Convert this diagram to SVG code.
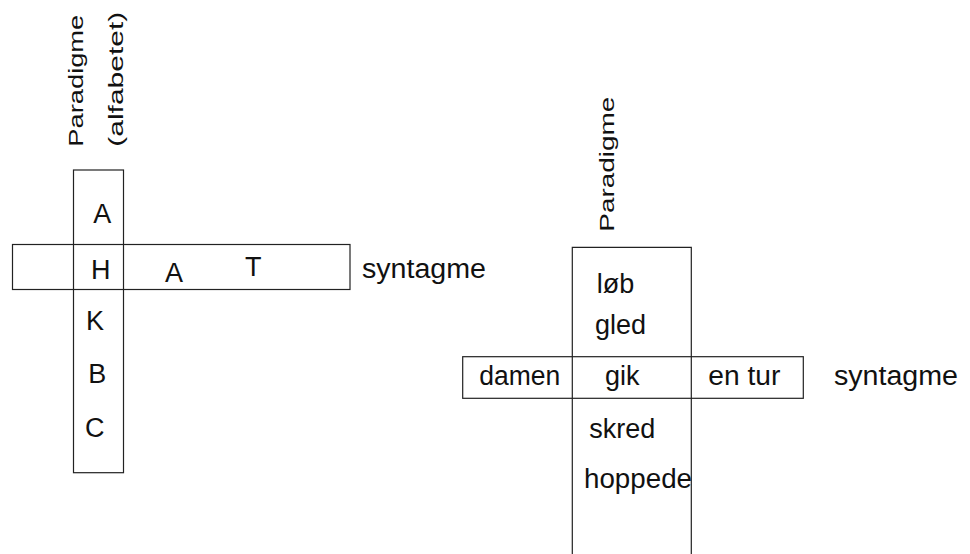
<svg xmlns="http://www.w3.org/2000/svg" width="970" height="554" viewBox="0 0 970 554">
  <style>
    .box { fill: none; stroke: #222; stroke-width: 1.2; }
    .t { font-family: "Liberation Sans", Arial, sans-serif; font-size: 27px; fill: #111; }
    .v { font-family: "Liberation Sans", Arial, sans-serif; font-size: 21px; fill: #111; }
  </style>
  <rect width="970" height="554" fill="#fff"/>

  <!-- Left cross: the alphabet as paradigm, H-A-T as syntagm -->
  <g id="left-paradigm">
    <rect class="box" x="73.5" y="170" width="50" height="302.7"/>
    <text class="v" transform="translate(83,146.7) rotate(-90)" textLength="132" lengthAdjust="spacingAndGlyphs">Paradigme</text>
    <text class="v" transform="translate(123,146.7) rotate(-90)" textLength="135" lengthAdjust="spacingAndGlyphs">(alfabetet)</text>
    <text class="t" x="93.3" y="223.3">A</text>
    <text class="t" x="86" y="330">K</text>
    <text class="t" x="88.3" y="383.3">B</text>
    <text class="t" x="85" y="436.7">C</text>
  </g>
  <g id="left-syntagm">
    <rect class="box" x="12.5" y="244.5" width="337.5" height="45"/>
    <text class="t" x="91" y="279.3">H</text>
    <text class="t" x="165" y="282.3">A</text>
    <text class="t" x="245" y="276">T</text>
    <text class="t" x="362" y="277.5" textLength="124" lengthAdjust="spacingAndGlyphs">syntagme</text>
  </g>

  <!-- Right cross: verbs as paradigm, "damen gik en tur" as syntagm -->
  <g id="right-paradigm">
    <path class="box" d="M572.3,554 V247.3 H691.3 V554"/>
    <text class="v" transform="translate(614,231.7) rotate(-90)" textLength="135" lengthAdjust="spacingAndGlyphs">Paradigme</text>
    <text class="t" x="596.7" y="293.3">løb</text>
    <text class="t" x="595" y="334">gled</text>
    <text class="t" x="589.3" y="438.3">skred</text>
    <text class="t" x="584" y="488.3" textLength="108" lengthAdjust="spacingAndGlyphs">hoppede</text>
  </g>
  <g id="right-syntagm">
    <rect class="box" x="462.7" y="356.7" width="340.6" height="41.6"/>
    <text class="t" x="479.3" y="385" textLength="81" lengthAdjust="spacingAndGlyphs">damen</text>
    <text class="t" x="605" y="385">gik</text>
    <text class="t" x="708.3" y="385" textLength="72" lengthAdjust="spacingAndGlyphs">en tur</text>
    <text class="t" x="834" y="385" textLength="124" lengthAdjust="spacingAndGlyphs">syntagme</text>
  </g>
</svg>
